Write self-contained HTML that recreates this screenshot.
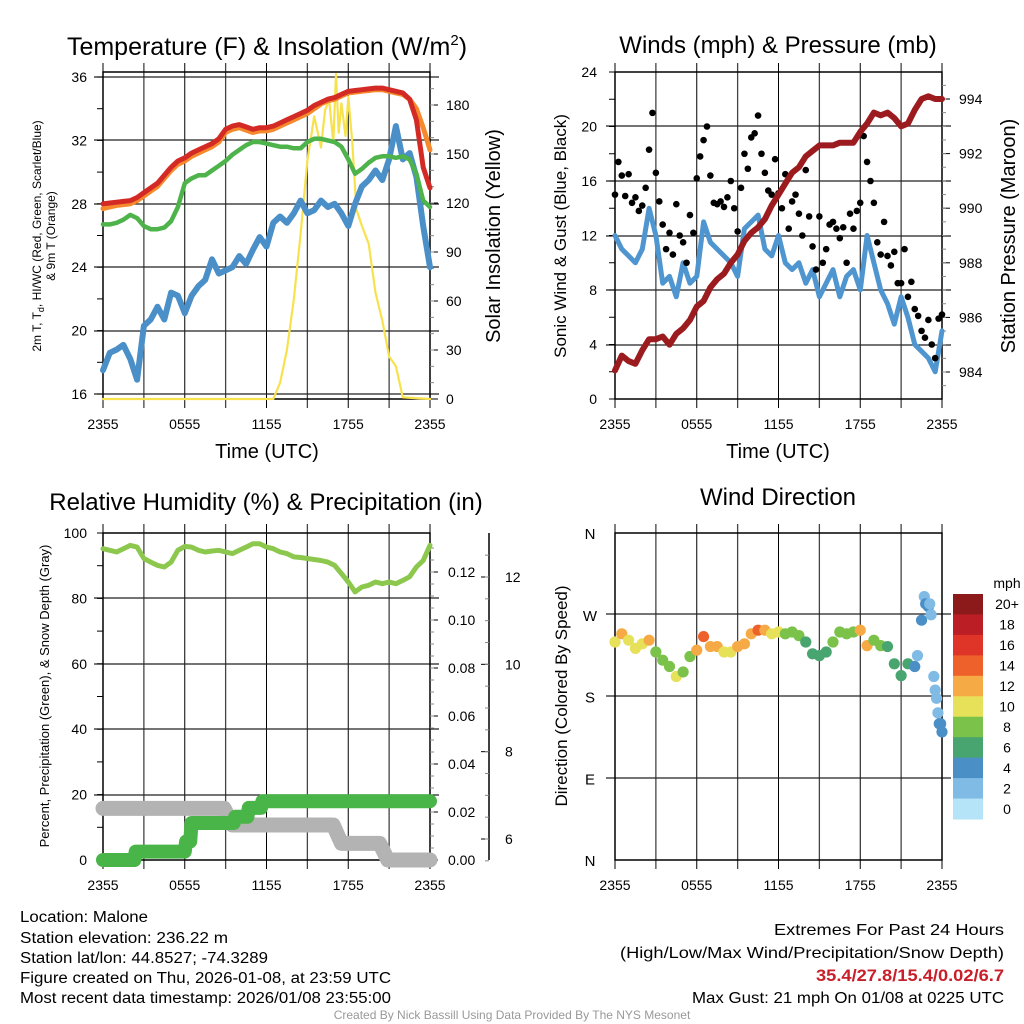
<!DOCTYPE html>
<html><head><meta charset="utf-8">
<style>
html,body{margin:0;padding:0;background:#fff;}
svg{display:block;font-family:"Liberation Sans",Arial,sans-serif;}
</style></head>
<body>
<svg id="fig" width="1024" height="1024" viewBox="0 0 1024 1024" xmlns="http://www.w3.org/2000/svg">
<rect width="1024" height="1024" fill="#fff"/>
<g id="g1"></g>
<g id="g2"></g>
<g id="g3"></g>
<g id="g4"></g>

<text x="267" y="55" font-size="25" text-anchor="middle">Temperature (F) &amp; Insolation (W/m<tspan font-size="15" dy="-10">2</tspan><tspan dy="10">)</tspan></text>
<text x="778" y="53" font-size="24" text-anchor="middle">Winds (mph) &amp; Pressure (mb)</text>
<text x="266" y="510" font-size="24" text-anchor="middle">Relative Humidity (%) &amp; Precipitation (in)</text>
<text x="778" y="505" font-size="24" text-anchor="middle">Wind Direction</text>

<text x="267" y="458" font-size="20" text-anchor="middle">Time (UTC)</text>
<text x="778" y="458" font-size="20" text-anchor="middle">Time (UTC)</text>

<text transform="translate(41,236) rotate(-90)" font-size="12" text-anchor="middle">2m T, T<tspan font-size="9" dy="3">d</tspan><tspan dy="-3">, HI/WC (Red, Green, Scarlet/Blue)</tspan></text>
<text transform="translate(55,236) rotate(-90)" font-size="12" text-anchor="middle">&amp; 9m T (Orange)</text>
<text transform="translate(500,236) rotate(-90)" font-size="20" text-anchor="middle">Solar Insolation (Yellow)</text>
<text transform="translate(566,236) rotate(-90)" font-size="17" text-anchor="middle">Sonic Wind &amp; Gust (Blue, Black)</text>
<text transform="translate(1015,236) rotate(-90)" font-size="20" text-anchor="middle">Station Pressure (Maroon)</text>
<text transform="translate(49,696) rotate(-90)" font-size="13" text-anchor="middle">Percent, Precipitation (Green), &amp; Snow Depth (Gray)</text>
<text transform="translate(567,696) rotate(-90)" font-size="17" text-anchor="middle">Direction (Colored By Speed)</text>

<g font-size="15.5">
<text x="20" y="922" textLength="128" lengthAdjust="spacingAndGlyphs">Location: Malone</text>
<text x="20" y="943" textLength="208" lengthAdjust="spacingAndGlyphs">Station elevation: 236.22 m</text>
<text x="20" y="963" textLength="248" lengthAdjust="spacingAndGlyphs">Station lat/lon: 44.8527; -74.3289</text>
<text x="20" y="983" textLength="371" lengthAdjust="spacingAndGlyphs">Figure created on Thu, 2026-01-08, at 23:59 UTC</text>
<text x="20" y="1003" textLength="371" lengthAdjust="spacingAndGlyphs">Most recent data timestamp: 2026/01/08 23:55:00</text>
</g>
<g font-size="16" text-anchor="end">
<text x="1004" y="935" textLength="230" lengthAdjust="spacingAndGlyphs">Extremes For Past 24 Hours</text>
<text x="1004" y="958" textLength="384" lengthAdjust="spacingAndGlyphs">(High/Low/Max Wind/Precipitation/Snow Depth)</text>
<text x="1004" y="981" fill="#c8202a" font-weight="bold" font-size="17" textLength="188" lengthAdjust="spacingAndGlyphs">35.4/27.8/15.4/0.02/6.7</text>
<text x="1004" y="1003" textLength="312" lengthAdjust="spacingAndGlyphs">Max Gust: 21 mph On 01/08 at 0225 UTC</text>
</g>
<text x="512" y="1019" font-size="12" fill="#999" text-anchor="middle">Created By Nick Bassill Using Data Provided By The NYS Mesonet</text>
</svg>
<script>
// ---- data (half-hourly unless noted) ----
const xTickLabels = ["2355","0555","1155","1755","2355"];
const tempRed = [28.0,28.05,28.1,28.15,28.2,28.4,28.7,29.0,29.3,29.8,30.3,30.7,30.9,31.2,31.4,31.6,31.8,32.1,32.7,32.9,33.0,32.85,32.7,32.8,32.8,32.9,33.1,33.3,33.5,33.7,33.9,34.2,34.4,34.6,34.7,34.9,35.1,35.15,35.2,35.25,35.3,35.3,35.2,35.1,35.0,34.6,33.3,30.3,29.0];
const tempOrange = [27.7,27.8,27.9,27.95,28.0,28.2,28.5,28.8,29.1,29.6,30.1,30.5,30.7,31.0,31.2,31.4,31.6,31.9,32.5,32.7,32.8,32.65,32.5,32.6,32.6,32.7,32.9,33.1,33.3,33.5,33.7,34.0,34.3,34.5,34.6,34.8,35.0,35.05,35.1,35.15,35.2,35.2,35.1,35.0,34.9,34.6,34.0,32.8,31.4];
const tempGreen = [26.7,26.7,26.8,27.0,27.3,27.1,26.6,26.4,26.4,26.5,26.9,27.8,29.3,29.6,29.8,29.8,30.1,30.4,30.7,31.1,31.4,31.7,31.9,31.9,31.8,31.7,31.6,31.6,31.5,31.5,31.9,32.1,32.1,32.0,31.9,31.6,30.8,29.9,30.2,30.6,30.9,31.0,31.0,30.9,31.0,30.8,29.9,28.2,27.8];
const dewBlue = [17.5,18.6,18.8,19.1,18.2,16.9,20.3,20.7,21.5,20.7,22.4,22.2,21.1,22.2,22.8,23.2,24.5,23.6,23.8,24.0,24.7,24.2,25.1,25.9,25.3,26.8,27.2,26.8,27.4,28.2,27.4,27.6,28.2,27.8,28.0,27.4,26.6,28.0,29.1,29.5,30.1,29.5,30.8,32.9,30.8,31.2,29.7,26.6,24.0];
const solarT = [0,12.5,13,13.5,14,14.5,15,15.5,16,16.3,16.6,16.9,17.1,17.3,17.5,17.8,18,18.3,18.6,19,19.5,20,20.5,21,21.5,22,24];
const solarV = [0,0,10,30,61,101,146,173,154,177,183,157,199,163,181,161,185,157,116,106,95,65,48,26,20,1,0];
const windSonic = [12,11,10.5,10,11,14,12,8.5,9,7.5,10,8.5,9,13,11.5,11,10.5,10,9,12.5,13,13.5,11,10.5,12,10,9.5,10,8.5,9.5,7.5,8.5,9.5,7.5,9,9.5,8,12,10,8,7,5.5,7.5,6,4,3.5,3,2,5];
// gusts every 15 minutes
const windGust = [15,17.4,16.4,14.9, 16.5,14.4,14.8,13.8, 14.2,15.5,18.3,21.0, 16.6,14.5,12.8,11.0, 12.2,10.6,14.3,12.0, 11.5,10.0,13.5,12.2, 16.2,17.8,19.0,20.0, 16.4,14.4,14.3,14.5, 14.1,14.8,16.0,14.0, 12.3,15.5,18.0,16.9, 19.2,19.5,20.8,18.0, 16.6,15.3,15.0,17.6, 15.1,14.0,16.5,12.5, 14.5,15.0,13.6,12.0, 16.8,13.4,11.2,9.5, 13.4,10.0,11.0,12.8, 13.0,12.5,11.8,12.6, 10.0,13.6,12.5,13.8, 14.4,19.3,17.4,16.0, 14.4,11.5,10.6,13.0, 10.5,9.8,10.8,8.5, 8.5,11.0,7.5,8.6, 6.6,6.1,5.0,4.5, 5.8,4.0,3.0,5.9, 6.2];
const pressure = [984.06,984.6,984.4,984.3,984.8,985.2,985.2,985.3,985.0,985.4,985.6,985.9,986.4,986.6,987.1,987.4,987.6,988.0,988.3,988.8,989.1,989.3,989.6,990.1,990.5,990.9,991.3,991.5,991.9,992.1,992.3,992.3,992.3,992.4,992.4,992.4,992.8,993.1,993.5,993.4,993.5,993.3,993.0,993.1,993.6,994.0,994.1,994.0,994.0];
const rh = [95.2,94.7,94.2,95.2,96.2,95.7,92.2,91.1,90.1,89.6,91.1,94.7,95.9,95.7,94.7,94.2,94.5,94.7,94.2,93.7,94.7,95.7,96.7,96.7,95.7,95.2,94.2,93.7,92.7,92.5,92.2,91.9,91.6,91.1,90.1,87.6,85.0,82.0,83.5,84.0,85.0,84.5,85.0,84.5,85.5,86.6,89.6,91.6,96.2];
const precipT = [0,2.3,6.0,6.4,9.6,10.6,11.6];
const precipV = [0,0.0035,0.0077,0.0154,0.018,0.0217,0.0245];
const snowT = [0,9.2,17.2,20.6];
const snowV = [6.7,6.32,5.9,5.52];
const dirT = [0,0.5,1,1.5,2,2.5,3,3.5,4,4.5,5,5.5,6,6.5,7,7.5,8,8.5,9,9.5,10,10.5,11,11.5,12,12.5,13,13.5,14,14.5,15,15.5,16,16.5,17,17.5,18,18.5,19,19.5,20,20.5,21,21.5,22,22.2,22.5,22.7,22.8,23,23.1,23.2,23.4,23.5,23.6,23.7,23.8,23.9,24];
const dirV = [240,249,242,233,238,242,229,220,213,202,207,224,231,246,235,235,229,229,235,238,249,253,253,249,251,249,251,247,240,227,225,229,240,251,249,251,253,236,242,236,235,216,203,216,213,225,264,290,282,279,282,270,202,187,178,162,150,150,141];
const dirS = [11,12,11,10,10,12,9,8,8,10,8,8,12,14,12,12,10,11,12,12,13,15,12,10,10,9,8,8,7,7,7,7,8,9,8,9,12,12,9,8,7,6,6,6,4,2,4,2,4,4,2,2,2,2,2,2,4,4,4];
const legendLabels = ["20+","18","16","14","12","10","8","6","4","2","0"];
const speedColors = ["#b5e3f8","#7fbbe5","#4a8fc6","#48a56f","#7bc24a","#e7e15a","#f6aa45","#ef612a","#de3528","#bb1e25","#8c1a1a"];

const NS="http://www.w3.org/2000/svg";
function mk(parent,tag,attrs){const e=document.createElementNS(NS,tag);for(const k in attrs)e.setAttribute(k,attrs[k]);parent.appendChild(e);return e;}
function lin(d0,d1,r0,r1){return v=>r0+(v-d0)*(r1-r0)/(d1-d0);}
const L=103,R=430,L2=615,R2=942;
const xA=lin(0,24,L,R), xB=lin(0,24,L2,R2);
function half(i){return i*0.5;}

function frame(g,x0,x1,y0,y1,xs,gridYs){
  for(let k=0;k<=8;k++){const x=xs(k*3);
    const l=mk(g,'line',{x1:x,x2:x,y1:y0-9,y2:y1+9,stroke:k%2?'#444':'#000','stroke-width':k%2?1.3:1});
    
    }
  for(const y of gridYs){const l=mk(g,'line',{x1:x0-9,x2:x1+9,y1:y,y2:y,stroke:'#222','stroke-width':1.2});
    
    }
  const b=mk(g,'rect',{x:x0,y:y0,width:x1-x0,height:y1-y0,fill:'none',stroke:'#000','stroke-width':1.5});
  
  
  xTickLabels.forEach((s,i)=>{const t=mk(g,'text',{x:xs(i*6),y:y1+30,'font-size':14,'text-anchor':'middle'});t.textContent=s;
    
    });
}
function path(g,xs,ys,T,V,attrs,name){
  let d='';V.forEach((v,i)=>{d+=(i?'L':'M')+xs(T(i)).toFixed(1)+','+ys(v).toFixed(1);});
  const p=mk(g,'path',Object.assign({d:d,fill:'none','stroke-linejoin':'round','stroke-linecap':'round'},attrs));
  
  
  return p;
}
function label(g,x,y,s,anchor,size,name){const t=mk(g,'text',{x:x,y:y,'font-size':size||14,'text-anchor':anchor});t.textContent=s;
  
  }

// ---- Panel 1 ----
(function(){
 const g=document.getElementById('g1');
 const y=lin(16,36,394,77), yS=lin(0,180,399,105);
 frame(g,L,R,72,399,xA,[77,140,204,267,331,394]);
 for(let v=16;v<=36;v+=4) label(g,87,y(v)+5,String(v),'end',14,'y-tick-label');
 for(let v=16;v<=36;v+=2) mk(g,'line',{x1:L-6,x2:L,y1:y(v),y2:y(v),stroke:'#000'});
 for(let v=0;v<=180;v+=30){ mk(g,'line',{x1:R,x2:R+8,y1:yS(v),y2:yS(v),stroke:'#000'}); label(g,446,yS(v)+5,String(v),'start',14,'solar-tick-label');}
 for(let v=10;v<=190;v+=10) mk(g,'line',{x1:R,x2:R+4,y1:yS(v),y2:yS(v),stroke:'#888'});
 path(g,xA,yS,i=>solarT[i],solarV,{stroke:'#f7e24e','stroke-width':2.2},'solar-line');
 path(g,xA,y,half,dewBlue,{stroke:'#4a8fc8','stroke-width':6},'dewpoint-line');
 path(g,xA,y,half,tempGreen,{stroke:'#4db34a','stroke-width':4.5},'green-temp-line');
 path(g,xA,y,half,tempOrange,{stroke:'#f5892b','stroke-width':5},'9m-temp-line');
 path(g,xA,y,half,tempRed,{stroke:'#d42a26','stroke-width':5},'2m-temp-line');
})();

// ---- Panel 2 ----
(function(){
 const g=document.getElementById('g2');
 const y=lin(0,24,399,72), yP=lin(984,994,372,99);
 frame(g,L2,R2,72,399,xB,[126,181,236,290,345]);
 for(let v=0;v<=24;v+=4) label(g,597,y(v)+5,String(v),'end',14,'wind-tick-label');
 for(let v=0;v<=24;v+=2) mk(g,'line',{x1:L2-6,x2:L2,y1:y(v),y2:y(v),stroke:'#000'});
 for(let v=984;v<=994;v+=2){ mk(g,'line',{x1:R2,x2:R2+8,y1:yP(v),y2:yP(v),stroke:'#000'}); label(g,959,yP(v)+5,String(v),'start',14,'pressure-tick-label');}
 for(let v=983.5;v<=994.5;v+=0.5) mk(g,'line',{x1:R2,x2:R2+4,y1:yP(v),y2:yP(v),stroke:'#888'});
 path(g,xB,y,half,windSonic,{stroke:'#4f96d0','stroke-width':5},'sonic-wind-line');
 windGust.forEach((v,i)=>{const c=mk(g,'circle',{cx:xB(i*0.25),cy:y(v),r:3.3,fill:'#000'});
   
   });
 path(g,xB,yP,half,pressure,{stroke:'#9b1b1f','stroke-width':6},'pressure-line');
})();

// ---- Panel 3 ----
(function(){
 const g=document.getElementById('g3');
 const y=lin(0,100,860,533), yP=lin(0,0.12,860,572), yS=lin(6,12,839,577);
 frame(g,L,R,533,860,xA,[598,664,729,795]);
 for(let v=0;v<=100;v+=20) label(g,87,y(v)+5,String(v),'end',14,'rh-tick-label');
 for(let v=0;v<=100;v+=10) mk(g,'line',{x1:L-6,x2:L,y1:y(v),y2:y(v),stroke:'#000'});
 for(let v=0;v<=0.121;v+=0.02){ mk(g,'line',{x1:R,x2:R+8,y1:yP(v),y2:yP(v),stroke:'#000'}); label(g,448,yP(v)+5,v.toFixed(2),'start',14,'precip-tick-label');}
 for(let v=0.005;v<=0.135;v+=0.005) mk(g,'line',{x1:R,x2:R+4,y1:yP(v),y2:yP(v),stroke:'#888'});
 mk(g,'line',{x1:489,x2:489,y1:533,y2:860,stroke:'#000','stroke-width':1.5});
 for(let v=6;v<=12;v+=2){ mk(g,'line',{x1:489,x2:481,y1:yS(v),y2:yS(v),stroke:'#000'}); label(g,505,yS(v)+5,String(v),'start',14,'snow-tick-label');}
 for(let v=5.5;v<=12.5;v+=0.5) mk(g,'line',{x1:489,x2:485,y1:yS(v),y2:yS(v),stroke:'#888'});
 let d='M'+xA(0)+','+yS(snowV[0]);
 for(let i=1;i<snowT.length;i++){d+='L'+xA(snowT[i]-0.3)+','+yS(snowV[i-1])+'L'+xA(snowT[i]+0.3)+','+yS(snowV[i]);}
 d+='L'+xA(24)+','+yS(snowV[snowV.length-1]);
 const sp=mk(g,'path',{d:d,fill:'none',stroke:'#b3b3b3','stroke-width':15,'stroke-linecap':'round','stroke-linejoin':'round'});
 
 
 let d2='M'+xA(0)+','+yP(precipV[0]);
 for(let i=1;i<precipT.length;i++){d2+='L'+xA(precipT[i])+','+yP(precipV[i-1])+'L'+xA(precipT[i]+0.1)+','+yP(precipV[i]);}
 d2+='L'+xA(24)+','+yP(precipV[precipV.length-1]);
 const pp=mk(g,'path',{d:d2,fill:'none',stroke:'#49b548','stroke-width':14,'stroke-linecap':'round','stroke-linejoin':'round'});
 
 
 path(g,xA,y,half,rh,{stroke:'#8dc84e','stroke-width':5},'rh-line');
})();

// ---- Panel 4 ----
(function(){
 const g=document.getElementById('g4');
 const y=lin(0,360,860,533);
 frame(g,L2,R2,533,860,xB,[614,696,778]);
 ["N","E","S","W","N"].forEach((s,i)=>label(g,590,y(i*90)+6,s,'middle',15,'direction-tick-label'));
 dirV.forEach((v,i)=>{const b=Math.min(10,Math.floor(dirS[i]/2));
   const c=mk(g,'circle',{cx:xB(dirT[i]),cy:y(v),r:5.6,fill:speedColors[b]});
   
   });
 label(g,1007,588,'mph','middle',14,'legend-title');
 const h=(819-594)/11;
 legendLabels.forEach((s,i)=>{
   const r=mk(g,'rect',{x:953,y:594+i*h,width:30,height:h+0.5,fill:speedColors[10-i]});
   
   
   label(g,1007,594+i*h+h/2+5,s,'middle',14,'legend-label');
 });
})();
</script>
</body></html>
